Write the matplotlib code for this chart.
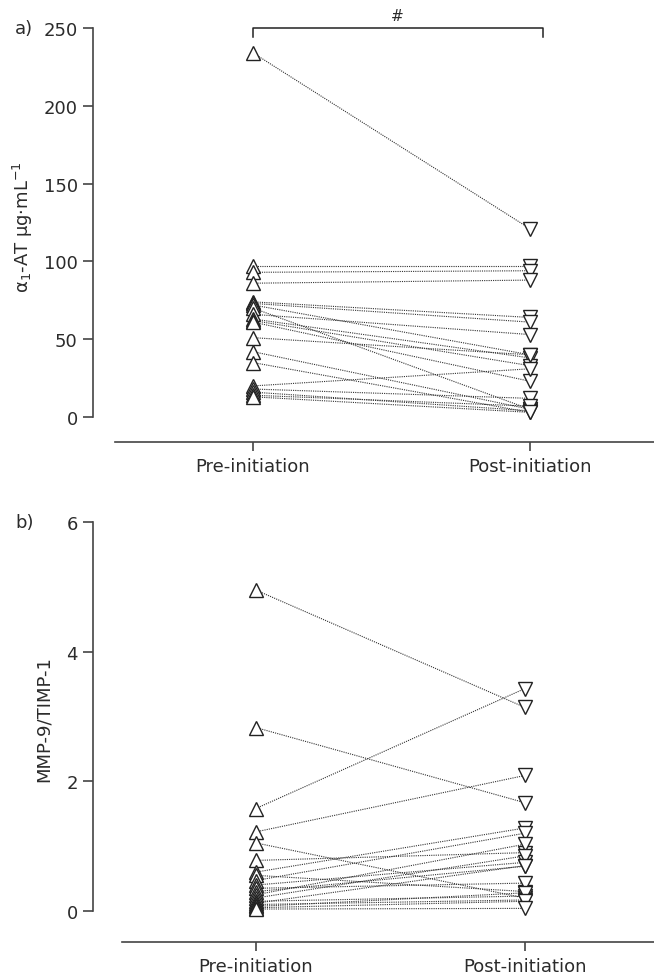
import matplotlib
matplotlib.use("Agg")
import matplotlib.pyplot as plt

plt.rcParams['font.family'] = ['DejaVu Sans']
plt.rcParams['mathtext.default'] = 'regular'

categories = ["Pre-initiation", "Post-initiation"]

a1at_pre = [234, 97, 93, 86, 74, 73, 72, 70, 66, 63, 62, 61, 51, 42, 35, 20, 18, 16, 14, 13]
a1at_post = [121, 97, 94, 88, 64, 61, 40, 5, 53, 38, 33, 23, 40, 5, 3, 31, 12, 4, 7, 3]

ratio_pre = [4.95, 2.83, 1.58, 1.22, 1.05, 0.78, 0.60, 0.55, 0.47, 0.40, 0.35, 0.30,
             0.25, 0.20, 0.15, 0.12, 0.10, 0.07, 0.05, 0.03]
ratio_post = [3.14, 1.67, 3.43, 2.09, 0.20, 0.90, 1.28, 0.30, 1.20, 0.75, 0.43, 0.69,
              1.03, 0.85, 0.23, 0.70, 0.17, 0.28, 0.15, 0.04]

a_ticks = [0, 50, 100, 150, 200, 250]
b_ticks = [0, 2, 4, 6]

W, H = 654, 979
fig = plt.figure(figsize=(W / 100, H / 100), dpi=100)

TXT = '#2b2b2b'
AX = '#444444'
FS = 13


def make_ax(left_px, right_px, top_px, bottom_px):
    return fig.add_axes([left_px / W, 1 - bottom_px / H,
                         (right_px - left_px) / W, (bottom_px - top_px) / H])


def style(ax, xlim, ylim, yb, xb_start, offset_pt, ticks):
    ax.set_xlim(*xlim)
    ax.set_ylim(*ylim)
    for s in ['top', 'right']:
        ax.spines[s].set_visible(False)
    ax.spines['left'].set_bounds(*yb)
    ax.spines['bottom'].set_bounds(xb_start, xlim[1])
    ax.spines['bottom'].set_position(('outward', offset_pt))
    for s in ['left', 'bottom']:
        ax.spines[s].set_color(AX)
        ax.spines[s].set_linewidth(1.2)
    ax.set_yticks(ticks)
    ax.set_xticks([0, 1])
    ax.set_xticklabels(categories)
    ax.tick_params(axis='both', colors=AX, labelcolor=TXT, labelsize=FS,
                   length=7, width=1.2, direction='out')
    ax.tick_params(axis='x', length=6.5, pad=4)
    ax.tick_params(axis='y', pad=4)
    ax.patch.set_alpha(0)


def draw_pairs(ax, pre, post, ms):
    for p, q in zip(pre, post):
        ax.plot([0, 1], [p, q], linestyle=(0, (1.0, 1.0)), color='#333333',
                linewidth=0.8, zorder=2, clip_on=False)
    ax.plot([0] * len(pre), pre, linestyle='none', marker='^', markersize=ms,
            markerfacecolor='white', markeredgecolor='#222222', markeredgewidth=1.0,
            zorder=3, clip_on=False)
    ax.plot([1] * len(post), post, linestyle='none', marker='v', markersize=ms,
            markerfacecolor='white', markeredgecolor='#222222', markeredgewidth=1.0,
            zorder=3, clip_on=False)


# ---- panel a ----
ax1 = make_ax(93, 654, 21.2, 433.6)
style(ax1, (-0.578, 1.448), (-10, 255), (0, 250), -0.498, 6.8, a_ticks)
draw_pairs(ax1, a1at_pre, a1at_post, 10)
ax1.set_ylabel(r'$\alpha_1$-AT μg·mL$^{-1}$', fontsize=FS, color=TXT)
ax1.yaxis.set_label_coords((35 - 93) / (654 - 93), 0.5)
# significance bracket
ax1.plot([0, 0, 1.046, 1.046], [244, 250, 250, 244], color='#222222', lw=1.1,
         clip_on=False)
ax1.text(0.52, 253, '#', ha='center', va='bottom', fontsize=11, color=TXT)
fig.text(15 / W, 1 - 29 / H, 'a)', ha='left', va='center', fontsize=FS, color=TXT)

# ---- panel b ----
ax2 = make_ax(93, 654, 510, 928.2)
style(ax2, (-0.605, 1.480), (-0.25, 6.2), (0, 6), -0.498, 10.7, b_ticks)
draw_pairs(ax2, ratio_pre, ratio_post, 10)
ax2.set_ylabel('MMP-9/TIMP-1', fontsize=FS, color=TXT)
ax2.yaxis.set_label_coords((53 - 93) / (654 - 93), 0.5)
fig.text(15 / W, 1 - 523 / H, 'b)', ha='left', va='center', fontsize=FS, color=TXT)

fig.savefig('out.png', dpi=100)
